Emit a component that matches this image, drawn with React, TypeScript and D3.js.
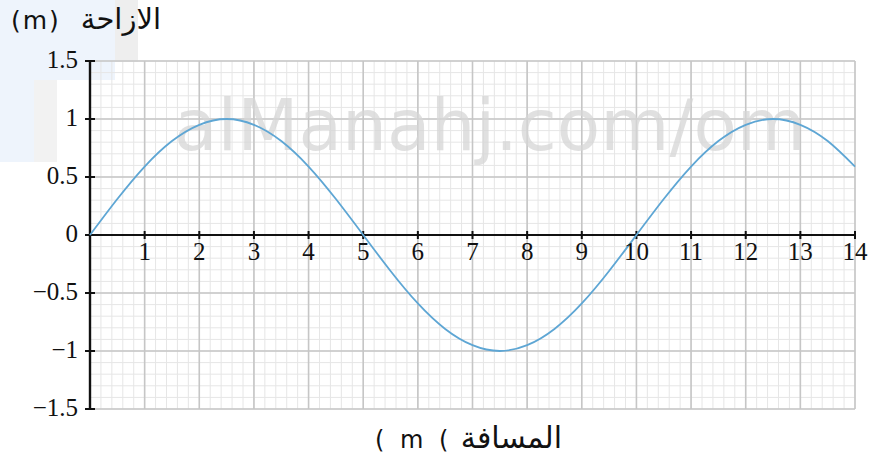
import React from "react";
import * as d3 from "d3";

// Data
const xPositions: number[] = [0, 0.5, 1, 1.5, 2, 2.5, 3, 3.5, 4, 4.5, 5, 5.5, 6, 6.5, 7, 7.5, 8, 8.5, 9, 9.5, 10, 10.5, 11, 11.5, 12, 12.5, 13, 13.5, 14];
const displacement: number[] = [0, 0.31, 0.59, 0.81, 0.95, 1, 0.95, 0.81, 0.59, 0.31, 0, -0.31, -0.59, -0.81, -0.95, -1, -0.95, -0.81, -0.59, -0.31, 0, 0.31, 0.59, 0.81, 0.95, 1, 0.95, 0.81, 0.59];
const xTicks: number[] = [1, 2, 3, 4, 5, 6, 7, 8, 9, 10, 11, 12, 13, 14];
const yTicks: number[] = [-1.5, -1, -0.5, 0, 0.5, 1, 1.5];
const yTickLabels: string[] = ["−1.5", "−1", "−0.5", "0", "0.5", "1", "1.5"];
const yTitleWord = "الازاحة";
const yTitleUnit = "(m)";
const xTitleWord = "المسافة";
const xTitleUnit = "( m (";
const watermark = "alManahj.com/om";

const W = 871;
const H = 457;

export default function App() {
  const x = d3.scaleLinear().domain([0, 14]).range([90, 855]);
  const y = d3.scaleLinear().domain([-1.5, 1.5]).range([409, 61]);

  const minorX = d3.range(0, 14.0001, 0.2);
  const minorY = d3.range(-1.5, 1.5001, 0.1);
  const majorX = d3.range(0, 15, 1);
  const majorY = d3.range(-1.5, 1.5001, 0.5);

  const pts: [number, number][] = xPositions.map((v, i) => [v, displacement[i]]);
  const line = d3
    .line<[number, number]>()
    .x((d) => x(d[0]))
    .y((d) => y(d[1]))
    .curve(d3.curveNatural);

  const serif = "'Liberation Serif', 'Times New Roman', serif";
  const sans = "'DejaVu Sans', 'Noto Sans', sans-serif";

  return (
    <svg
      width={W}
      height={H}
      style={{ position: "absolute", left: 0, top: 0, background: "#fff" }}
    >
      {/* faint logo background */}
      <rect x={0} y={0} width={115} height={80} fill="#eef4fc" />
      <rect x={0} y={80} width={34} height={82} fill="#eef4fc" />
      <rect x={34} y={80} width={23} height={82} fill="#f2f2f2" />
      <rect x={115} y={0} width={23} height={62} fill="#eeeeee" />

      {/* minor grid */}
      <g stroke="#e6e6e6" strokeWidth={1}>
        {minorX.map((v, i) => (
          <line key={"mx" + i} x1={x(v)} x2={x(v)} y1={y(1.5)} y2={y(-1.5)} />
        ))}
        {minorY.map((v, i) => (
          <line key={"my" + i} x1={x(0)} x2={x(14)} y1={y(v)} y2={y(v)} />
        ))}
      </g>
      {/* major grid */}
      <g stroke="#c6c6c6" strokeWidth={1.6}>
        {majorX.map((v, i) => (
          <line key={"Mx" + i} x1={x(v)} x2={x(v)} y1={y(1.5)} y2={y(-1.5)} />
        ))}
        {majorY.map((v, i) => (
          <line key={"My" + i} x1={x(0)} x2={x(14)} y1={y(v)} y2={y(v)} />
        ))}
      </g>

      {/* watermark */}
      <text
        x={490}
        y={150}
        textAnchor="middle"
        fontFamily={sans}
        fontSize={71}
        fill="#d6d6d6"
        fillOpacity={0.75}
      >
        {watermark}
      </text>

      {/* axes */}
      <line x1={x(0)} x2={x(14)} y1={y(0)} y2={y(0)} stroke="#111" strokeWidth={2.2} />
      <line x1={x(0)} x2={x(0)} y1={y(1.5)} y2={y(-1.5)} stroke="#111" strokeWidth={2.4} />
      {xTicks.map((t) => (
        <line key={"xt" + t} x1={x(t)} x2={x(t)} y1={y(0) - 4} y2={y(0) + 4} stroke="#111" strokeWidth={2} />
      ))}
      {yTicks.map((t) => (
        <line key={"yt" + t} x1={x(0) - 5} x2={x(0) + 5} y1={y(t)} y2={y(t)} stroke="#111" strokeWidth={2} />
      ))}

      {/* curve */}
      <path d={line(pts) || ""} fill="none" stroke="#5ea6d4" strokeWidth={1.8} />

      {/* tick labels */}
      {xTicks.map((t) => (
        <text
          key={"xl" + t}
          x={x(t)}
          y={260}
          textAnchor="middle"
          fontFamily={serif}
          fontSize={25}
          fill="#111"
        >
          {String(t)}
        </text>
      ))}
      {yTicks.map((t, i) => (
        <text
          key={"yl" + t}
          x={78}
          y={y(t) + 7}
          textAnchor="end"
          fontFamily={serif}
          fontSize={25}
          fill="#111"
        >
          {yTickLabels[i]}
        </text>
      ))}

      {/* axis titles */}
      <text x={11} y={29} textAnchor="start" fontFamily={sans} fontSize={25} letterSpacing={2} fill="#111">
        {yTitleUnit}
      </text>
      <text x={161} y={29} textAnchor="end" fontFamily={sans} fontSize={29} fill="#111">
        {yTitleWord}
      </text>
      <text x={375} y={448} textAnchor="start" fontFamily={sans} fontSize={24} letterSpacing={4} fill="#111">
        {xTitleUnit}
      </text>
      <text x={562} y={448} textAnchor="end" fontFamily={sans} fontSize={30} fill="#111">
        {xTitleWord}
      </text>
    </svg>
  );
}
